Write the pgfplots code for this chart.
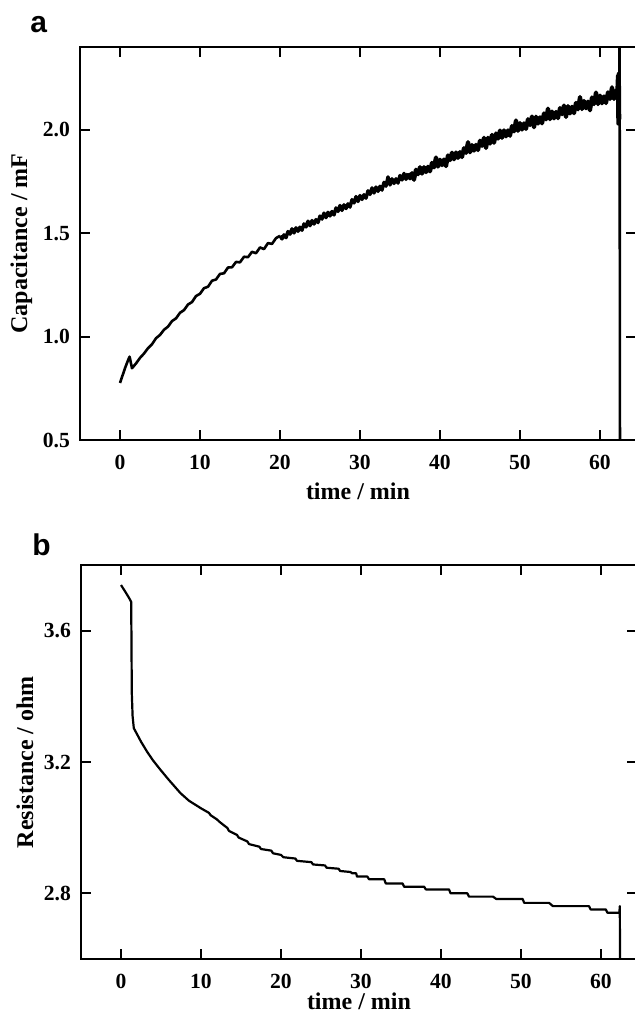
\documentclass[border=0pt]{standalone}
\usepackage{fontspec}
\setmainfont{Liberation Serif}
\newfontfamily\panelfont{Liberation Sans}
\usepackage{pgfplots}
\pgfplotsset{compat=1.18}

% shared look of both panels
\pgfplotsset{
  panel/.style={
    scale only axis,
    width=278pt,
    xmin=-5, xmax=64.5,
    xtick={0,10,20,30,40,50,60},
    tick align=inside,
    major tick length=5pt,
    axis line style={line width=1pt},
    every tick/.style={line width=1pt, black},
    tick label style={font=\fontsize{10.8}{12}\selectfont\bfseries},
    label style={font=\fontsize{12}{14}\selectfont\bfseries},
    /pgf/number format/assume math mode=true,
    xticklabel style={yshift=-4pt},
    yticklabel style={xshift=-1.5pt,
      /pgf/number format/.cd, fixed, fixed zerofill, precision=1},
    xlabel={time / min},
    ylabel style={at={(axis description cs:-0.085,0.5)}, anchor=south, inner sep=0pt},
  }
}

\begin{document}
\begin{tikzpicture}
\useasboundingbox (0,0) rectangle (317.5pt,-509.5pt);

\node[anchor=base west, inner sep=0pt, font=\panelfont\bfseries\fontsize{15}{16}\selectfont] at (15pt,-16pt) {a};
\node[anchor=base west, inner sep=0pt, font=\panelfont\bfseries\fontsize{15}{16}\selectfont] at (16pt,-277.5pt) {b};

% panel a: capacitance
\begin{axis}[panel,
  at={(40pt,-220pt)}, anchor=south west,
  height=196.5pt,
  ymin=0.5, ymax=2.40,
  ytick={0.5,1.0,1.5,2.0},
  ylabel={Capacitance / mF},
  xlabel style={at={(axis description cs:0.5,-0.109)}, anchor=north, inner sep=0pt},
]
\addplot[black, line width=1.3pt, line join=round] coordinates {
(0,0.776) (0.3,0.81) (0.7,0.855) (1.0,0.885) (1.2,0.903) (1.5,0.847)
(2.0,0.870) (2.5,0.897) (3.0,0.918) (3.5,0.944) (4.0,0.963) (4.5,0.992)
(5.0,1.008) (5.5,1.033) (6.0,1.048) (6.5,1.075) (7.0,1.088) (7.5,1.115)
(8.0,1.128) (8.5,1.155) (9.0,1.167) (9.5,1.196) (10.0,1.207) (10.5,1.234)
(11.0,1.241) (11.5,1.270) (12.0,1.276) (12.5,1.303) (13.0,1.306) (13.5,1.334)
(14.0,1.335) (14.5,1.361) (15.0,1.359) (15.5,1.386) (16.0,1.384) (16.5,1.410)
(17.0,1.403) (17.5,1.431) (18.0,1.423) (18.5,1.452) (19.0,1.448) (19.5,1.476)
(20.00,1.487)
};
\addplot[black, line width=1.7pt, line join=round] coordinates {
(20.00,1.487) (20.25,1.472) (20.50,1.492) (20.75,1.478) (21.00,1.508) (21.25,1.495)
(21.50,1.521) (21.75,1.501) (22.00,1.526) (22.25,1.509) (22.50,1.529) (22.75,1.514)
(23.00,1.545) (23.25,1.530) (23.50,1.558) (23.75,1.536) (24.00,1.561) (24.25,1.544)
(24.50,1.566) (24.75,1.551) (25.00,1.583) (25.25,1.568) (25.50,1.597) (25.75,1.575)
(26.00,1.601) (26.25,1.583) (26.50,1.605) (26.75,1.588) (27.00,1.622) (27.25,1.605)
(27.50,1.634) (27.75,1.610) (28.00,1.637) (28.25,1.619) (28.50,1.642) (28.75,1.626)
(29.00,1.662) (29.25,1.646) (29.50,1.677) (29.75,1.653) (30.00,1.682) (30.25,1.663)
(30.50,1.686) (30.75,1.669) (31.00,1.705) (31.25,1.687) (31.50,1.719) (31.75,1.694)
(32.00,1.723) (32.25,1.702) (32.50,1.727) (32.75,1.708) (33.00,1.746) (33.25,1.727)
(33.50,1.772) (33.75,1.733) (34.00,1.763) (34.25,1.740) (34.50,1.763) (34.75,1.742)
(35.00,1.779) (35.25,1.757) (35.50,1.789) (35.75,1.760) (36.00,1.789)
};
\addplot[black, line width=2.1pt, line join=round] coordinates {
(36.00,1.789) (36.25,1.765)
(36.50,1.790) (36.75,1.758) (37.00,1.807) (37.25,1.785) (37.50,1.819) (37.75,1.788)
(38.00,1.819) (38.25,1.795) (38.50,1.821) (38.75,1.799) (39.00,1.840) (39.25,1.818)
(39.50,1.866) (39.75,1.822) (40.00,1.855) (40.25,1.829) (40.50,1.856) (40.75,1.824)
(41.00,1.876) (41.25,1.853) (41.50,1.889) (41.75,1.857) (42.00,1.890) (42.25,1.864)
(42.50,1.892) (42.75,1.868) (43.00,1.911) (43.25,1.888) (43.50,1.940) (43.75,1.891)
(44.00,1.926) (44.25,1.899) (44.50,1.927) (44.75,1.902) (45.00,1.947) (45.25,1.922)
(45.50,1.961) (45.75,1.912) (46.00,1.961) (46.25,1.933) (46.50,1.975) (46.75,1.937)
(47.00,1.982) (47.25,1.957) (47.50,1.996) (47.75,1.961) (48.00,1.997) (48.25,1.968)
(48.50,1.997) (48.75,1.971) (49.00,2.018) (49.25,1.992) (49.50,2.045) (49.75,1.995)
(50.00,2.032) (50.25,2.001) (50.50,2.031) (50.75,2.004) (51.00,2.051) (51.25,2.023)
(51.50,2.064) (51.75,2.012) (52.00,2.063) (52.25,2.030) (52.50,2.060) (52.75,2.031)
(53.00,2.079) (53.25,2.050) (53.50,2.102) (53.75,2.051) (54.00,2.088) (54.25,2.055)
(54.50,2.086) (54.75,2.056) (55.00,2.105) (55.25,2.075) (55.50,2.117) (55.75,2.062)
(56.00,2.114) (56.25,2.079) (56.50,2.111) (56.75,2.080) (57.00,2.130) (57.25,2.099)
(57.50,2.158) (57.75,2.100) (58.00,2.139) (58.25,2.104) (58.50,2.136) (58.75,2.094)
(59.00,2.156) (59.25,2.124) (59.50,2.180) (59.75,2.124) (60.00,2.165) (60.25,2.128)
(60.50,2.161) (60.75,2.129) (61.00,2.181) (61.25,2.149) (61.50,2.205) (61.75,2.149)
(62.00,2.190) (62.15,2.160) (62.25,2.260) (62.30,2.030) (62.35,2.270) (62.40,2.050)
};
\addplot[black, line width=1.3pt] coordinates {
(62.40,2.050) (62.45,2.600) (62.50,0.300)
};
\end{axis}

% panel b: resistance
\begin{axis}[panel,
  at={(40.5pt,-479.5pt)}, anchor=south west,
  height=197pt,
  ymin=2.6, ymax=3.8,
  ytick={2.8,3.2,3.6},
  ylabel={Resistance / ohm},
  xlabel style={at={(axis description cs:0.5,-0.086)}, anchor=north, inner sep=0pt},
]
\addplot[black, line width=1.1pt, line join=round] coordinates {
(0,3.739) (0.5,3.720) (1.0,3.700) (1.27,3.688) (1.30,3.600) (1.35,3.410)
(1.45,3.340) (1.6,3.303) (2.0,3.285) (2.5,3.262) (3.27,3.231) (4.0,3.205)
(4.94,3.176) (6.0,3.145) (7.44,3.105) (8.5,3.082) (10.0,3.059)
(11.0,3.045) (11.2,3.038) (12.0,3.025) (12.3,3.018) (13.3,2.999) (13.5,2.990)
(14.5,2.978) (14.7,2.970) (15.8,2.958) (16.0,2.950) (17.3,2.942) (17.5,2.935)
(18.8,2.930) (19.0,2.922) (20.0,2.917) (20.3,2.910) (21.8,2.906) (22.0,2.899)
(23.8,2.895) (24.0,2.888) (25.5,2.885) (25.7,2.878) (27.2,2.875) (27.4,2.868)
(28.7,2.865) (28.9,2.861) (29.4,2.861) (29.5,2.851) (30.8,2.851) (31.0,2.843)
(32.9,2.843) (33.1,2.830) (35.2,2.830) (35.4,2.820) (37.9,2.820) (38.1,2.812)
(41.0,2.812) (41.2,2.800) (43.3,2.800) (43.5,2.790) (46.5,2.790) (46.9,2.783)
(50.2,2.783) (50.4,2.771) (53.5,2.771) (54.0,2.761) (58.5,2.761) (58.7,2.751)
(60.6,2.751) (60.8,2.741) (62.1,2.741) (62.3,2.741) (62.35,2.761) (62.4,2.500)
};
\end{axis}
\end{tikzpicture}
\end{document}
